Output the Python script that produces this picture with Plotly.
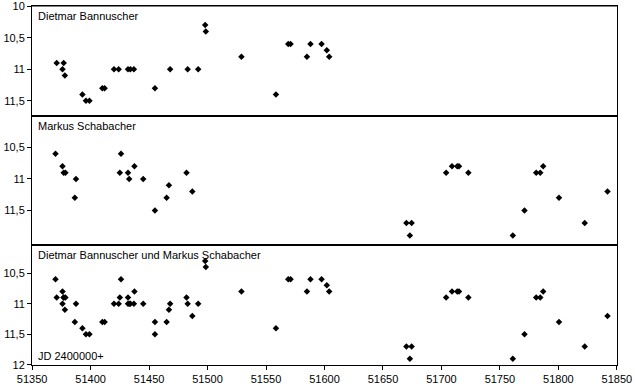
import plotly.graph_objects as go
from plotly.subplots import make_subplots

# Dietmar Bannuscher observations (JD - 2400000, magnitude)
jd_dietmar = [51371, 51376, 51377, 51378, 51393, 51396, 51399, 51410, 51412, 51420,
              51424, 51432, 51434, 51437, 51455, 51468, 51483, 51492, 51498, 51498.5,
              51529, 51558.5, 51569, 51571, 51585, 51588, 51597.5, 51602, 51604]
mag_dietmar = [10.9, 11.0, 10.9, 11.1, 11.4, 11.5, 11.5, 11.3, 11.3, 11.0,
               11.0, 11.0, 11.0, 11.0, 11.3, 11.0, 11.0, 11.0, 10.3, 10.4,
               10.8, 11.4, 10.6, 10.6, 10.8, 10.6, 10.6, 10.7, 10.8]

# Markus Schabacher observations
jd_markus = [51370, 51376, 51377, 51378.5, 51386.5, 51387.5, 51425, 51426, 51432, 51433,
             51437.5, 51445, 51455, 51465, 51467, 51482, 51487, 51670, 51673, 51674.5,
             51704, 51709, 51713.5, 51715, 51723, 51761, 51771, 51781, 51784.5, 51787,
             51800.5, 51822.5, 51842]
mag_markus = [10.6, 10.8, 10.9, 10.9, 11.3, 11.0, 10.9, 10.6, 10.9, 11.0,
              10.8, 11.0, 11.5, 11.3, 11.1, 10.9, 11.2, 11.7, 11.9, 11.7,
              10.9, 10.8, 10.8, 10.8, 10.9, 11.9, 11.5, 10.9, 10.9, 10.8,
              11.3, 11.7, 11.2]

panel_titles = ["Dietmar Bannuscher", "Markus Schabacher",
                "Dietmar Bannuscher und Markus Schabacher"]
x_ticks = [51350, 51400, 51450, 51500, 51550, 51600, 51650, 51700, 51750, 51800, 51850]
x_ticktext = [str(v) for v in x_ticks]
y_tickvals_top = [10, 10.5, 11, 11.5]
y_ticktext_top = ["10", "10,5", "11", "11,5"]
y_tickvals_mid = [10.5, 11, 11.5]
y_ticktext_mid = ["10,5", "11", "11,5"]
y_tickvals_bot = [10.5, 11, 11.5, 12]
y_ticktext_bot = ["10,5", "11", "11,5", "12"]

FONT = "Liberation Sans, Arial, sans-serif"

fig = make_subplots(rows=3, cols=1, shared_xaxes=False, vertical_spacing=0)

series = [
    (jd_dietmar, mag_dietmar),
    (jd_markus, mag_markus),
    (jd_dietmar + jd_markus, mag_dietmar + mag_markus),
]
for i, (xs, ys) in enumerate(series, start=1):
    fig.add_trace(go.Scatter(x=xs, y=ys, mode="markers",
                             marker=dict(symbol="diamond", size=5, color="black",
                                         line=dict(width=0)),
                             hoverinfo="skip", showlegend=False), row=i, col=1)

domains = [[0.6936, 1.0], [0.3343, 0.6936], [0.0, 0.3343]]
y_ranges = [[11.74, 9.998], [12.05, 10.0], [12.002, 10.04]]
y_ticks = [(y_tickvals_top, y_ticktext_top), (y_tickvals_mid, y_ticktext_mid),
           (y_tickvals_bot, y_ticktext_bot)]

for i in range(3):
    ax = "" if i == 0 else str(i + 1)
    fig.update_layout(**{
        f"xaxis{ax}": dict(range=[51349.9, 51850.1], tickvals=x_ticks, ticktext=x_ticktext,
                           showticklabels=(i == 2), ticks="outside" if i == 2 else "",
                           ticklen=4, tickcolor="black", tickwidth=1, automargin=False,
                           ticklabeloverflow="allow",
                           showline=True, linecolor="black", linewidth=1, mirror=True,
                           showgrid=False, zeroline=False,
                           tickfont=dict(family=FONT, size=11, color="black")),
        f"yaxis{ax}": dict(range=y_ranges[i], domain=domains[i],
                           tickvals=y_ticks[i][0], ticktext=y_ticks[i][1], automargin=False,
                           ticklabeloverflow="allow",
                           ticks="outside", ticklen=4, tickcolor="black", tickwidth=1,
                           showline=True, linecolor="black", linewidth=1, mirror=True,
                           showgrid=False, zeroline=False,
                           tickfont=dict(family=FONT, size=11, color="black")),
    })
    fig.add_annotation(text=panel_titles[i], xref=f"x{ax} domain", yref=f"y{ax} domain",
                       x=0.006, y=1, xanchor="left", yanchor="top", yshift=-2,
                       showarrow=False, font=dict(family=FONT, size=11, color="black"))

fig.add_annotation(text="JD 2400000+", xref="x3 domain", yref="y3 domain",
                   x=0.006, y=0, xanchor="left", yanchor="bottom", yshift=1,
                   showarrow=False, font=dict(family=FONT, size=11, color="black"))

# explicit outer top border of the top panel
fig.add_shape(type="line", xref="paper", yref="paper", x0=0, x1=1, y0=1, y1=1,
              line=dict(color="black", width=1))

fig.update_layout(width=635, height=387,
                  margin=dict(l=32, r=18, t=6, b=22),
                  paper_bgcolor="white", plot_bgcolor="white",
                  font=dict(family=FONT, size=11, color="black"))

fig.write_html("out.html", config={"displayModeBar": False},
               post_script="document.body.style.margin='0px';document.body.style.overflow='hidden';")
